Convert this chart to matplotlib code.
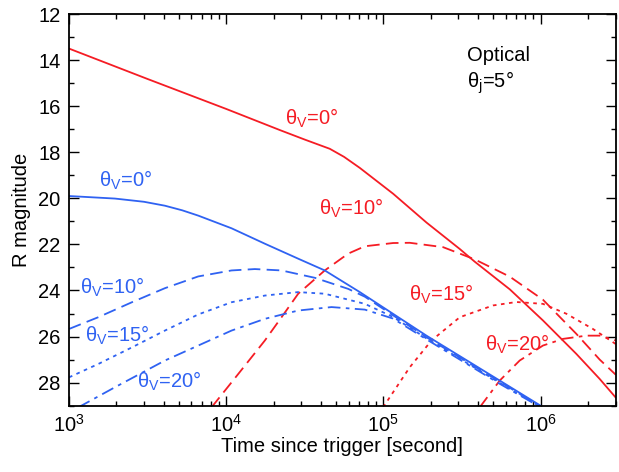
import matplotlib
matplotlib.use("Agg")
import matplotlib.pyplot as plt
from matplotlib.ticker import MultipleLocator, LogLocator, NullFormatter

plt.rcParams["font.family"] = ["Liberation Sans", "DejaVu Sans"]
plt.rcParams["mathtext.fontset"] = "custom"
plt.rcParams["mathtext.rm"] = "Liberation Sans"
plt.rcParams["mathtext.it"] = "Liberation Sans:italic"

RED = "#f51c24"
BLUE = "#2f62f2"

# optical light curves, theta_j = 5 deg (time in s, R magnitude)
red0_t = [1e3, 3.16e3, 1e4, 2.2e4, 3.16e4, 4.56e4, 5.62e4, 7.08e4, 1.153e5,
          1.879e5, 3.062e5, 3.811e5, 6.368e5, 1.035e6, 1.687e6, 2.377e6, 3.0e6]
red0_m = [13.5, 14.82, 16.12, 17.04, 17.45, 17.85, 18.2, 18.68, 19.8,
          21.05, 22.2, 22.75, 23.95, 25.3, 26.75, 27.84, 28.64]

red10_t = [8.07e3, 1.194e4, 1.762e4, 2.249e4, 2.871e4, 4.236e4, 5.97e4, 7.621e4,
           1.153e5, 1.472e5, 2.399e5, 3.811e5, 6.368e5, 1.035e6, 1.687e6,
           2.377e6, 3.0e6]
red10_m = [29.07, 27.62, 26.17, 25.16, 24.14, 23.13, 22.4, 22.08,
           21.94, 21.93, 22.12, 22.65, 23.4, 24.4, 25.88,
           27.0, 27.65]

red15_t = [9.954e4, 1.472e5, 2.023e5, 3.062e5, 4.977e5, 7.015e5, 1.035e6,
           1.459e6, 2.153e6, 3.0e6]
red15_m = [29.07, 27.33, 26.17, 25.16, 24.65, 24.5, 24.58,
           25.01, 25.67, 26.32]

red20_t = [4.102e5, 5.495e5, 7.362e5, 1.035e6, 1.39e6, 1.954e6, 2.377e6, 3.0e6]
red20_m = [29.07, 27.91, 27.04, 26.39, 26.1, 25.96, 25.96, 26.17]

blue0_t = [1e3, 1.959e3, 3.0e3, 4.074e3, 5.25e3, 6.637e3, 1.081e4, 1.762e4,
           2.871e4, 4.236e4, 7.079e4, 1.879e5, 5.495e5, 1.0e6]
blue0_m = [19.9, 20.01, 20.15, 20.32, 20.52, 20.75, 21.3, 21.97,
           22.62, 23.13, 24.07, 25.96, 27.91, 29.0]

blue10_t = [1e3, 1.535e3, 2.512e3, 4.074e3, 6.637e3, 1.081e4, 1.521e4, 2.249e4,
            3.664e4, 5.97e4, 7.621e4, 1.153e5, 1.879e5, 5.495e5, 9.8e5]
blue10_m = [25.67, 25.16, 24.51, 23.9, 23.39, 23.13, 23.07, 23.13,
            23.45, 23.93, 24.27, 25.08, 26.03, 27.96, 29.0]

blue15_t = [1e3, 1.535e3, 2.512e3, 4.074e3, 6.637e3, 1.081e4, 1.762e4, 2.871e4,
            4.236e4, 7.621e4, 1.153e5, 1.879e5, 5.495e5, 9.7e5]
blue15_m = [27.77, 27.19, 26.47, 25.74, 25.04, 24.51, 24.22, 24.07,
            24.14, 24.58, 25.15, 26.08, 28.01, 29.0]

blue20_t = [1.148e3, 1.959e3, 4.074e3, 6.637e3, 1.081e4, 1.762e4, 2.871e4,
            4.677e4, 7.621e4, 1.153e5, 1.879e5, 5.495e5, 9.6e5]
blue20_m = [29.07, 28.2, 27.04, 26.39, 25.74, 25.23, 24.87,
            24.72, 24.83, 25.22, 26.12, 28.05, 29.0]

DASH = (0, (7, 3.5))
DOT = (0, (2, 2.5))
DASHDOT = (0, (7, 3, 2, 3))

fig = plt.figure(figsize=(6.19, 4.72), dpi=100)
ax = fig.add_axes([0.1115, 0.1405, 0.883, 0.8298])

lw = 1.3
ax.plot(red0_t, red0_m, color=RED, lw=lw)
ax.plot(red10_t, red10_m, color=RED, lw=lw, linestyle=DASH)
ax.plot(red15_t, red15_m, color=RED, lw=lw, linestyle=DOT)
ax.plot(red20_t, red20_m, color=RED, lw=lw, linestyle=DASHDOT)
ax.plot(blue0_t, blue0_m, color=BLUE, lw=lw)
ax.plot(blue10_t, blue10_m, color=BLUE, lw=lw, linestyle=DASH)
ax.plot(blue15_t, blue15_m, color=BLUE, lw=lw, linestyle=DOT)
ax.plot(blue20_t, blue20_m, color=BLUE, lw=lw, linestyle=DASHDOT)

ax.set_xscale("log")
ax.set_xlim(1e3, 3e6)
ax.set_ylim(29, 12)

ax.yaxis.set_major_locator(MultipleLocator(2))
ax.yaxis.set_minor_locator(MultipleLocator(1))
ax.xaxis.set_major_locator(LogLocator(base=10, numticks=10))
ax.xaxis.set_minor_locator(LogLocator(base=10, subs=range(2, 10), numticks=20))
ax.xaxis.set_minor_formatter(NullFormatter())
ax.tick_params(which="both", direction="in", top=True, right=True, width=1.0)
ax.tick_params(which="major", length=7, labelsize=14.5, pad=6)
ax.tick_params(which="minor", length=3.5)
for sp in ax.spines.values():
    sp.set_linewidth(1.3)

ax.set_xlabel("Time since trigger [second]", fontsize=14.5, labelpad=1)
ax.set_ylabel("R magnitude", fontsize=14.5, labelpad=5)

lab = dict(fontsize=14.5, ha="center", va="center")
ax.text(3.51e4, 16.55, "θ$_\\mathregular{V}$=0°", color=RED, **lab)
ax.text(6.21e4, 20.42, "θ$_\\mathregular{V}$=10°", color=RED, **lab)
ax.text(2.32e5, 24.16, "θ$_\\mathregular{V}$=15°", color=RED, **lab)
ax.text(7.05e5, 26.33, "θ$_\\mathregular{V}$=20°", color=RED, **lab)
ax.text(2.3e3, 19.2, "θ$_\\mathregular{V}$=0°", color=BLUE, **lab)
ax.text(1.875e3, 23.85, "θ$_\\mathregular{V}$=10°", color=BLUE, **lab)
ax.text(2.02e3, 25.94, "θ$_\\mathregular{V}$=15°", color=BLUE, **lab)
ax.text(4.33e3, 27.94, "θ$_\\mathregular{V}$=20°", color=BLUE, **lab)

ax.text(0.728, 0.893, "Optical", transform=ax.transAxes, fontsize=14.5,
        ha="left", va="center")
ax.text(0.728, 0.824, "θ$_\\mathregular{j}$=5°", transform=ax.transAxes,
        fontsize=14.5, ha="left", va="center")

fig.savefig("out.png", dpi=100)
